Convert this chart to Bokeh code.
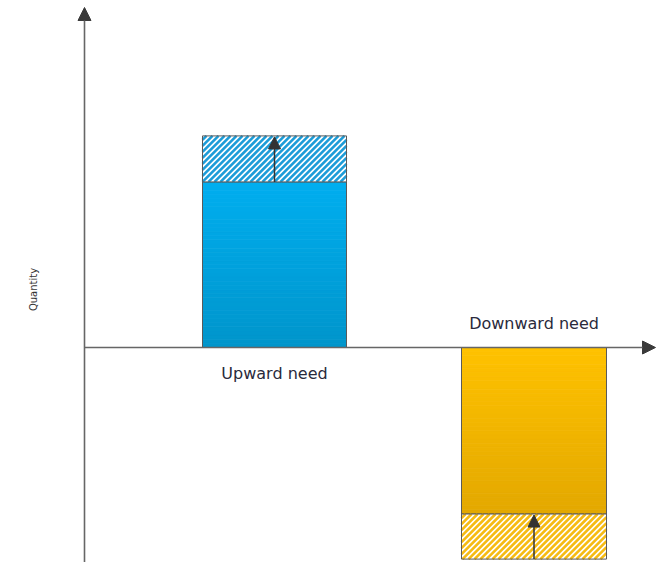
import numpy as np
from bokeh.plotting import figure
from bokeh.models import Range1d, Arrow, NormalHead
from bokeh.core.properties import value
from bokeh.embed import file_html
from bokeh.resources import INLINE

# ---- data ----
categories = ["Upward need", "Downward need"]
base_need = [3.6, -3.62]
extra_need = [1.0, -0.98]
axis_label = "Quantity"

# ---- layout (pixel-like x units, value y units) ----
PX = 46.0                      # pixels per unit of quantity
AXIS_Y = 352                   # reference pixel row of the horizontal axis
TOP_PX = 5                     # reference pixel row at the top of the frame
bar_x = [274, 533.5]
bar_w = [144, 145]
label_off = [-0.56, 0.52]
top_colors = [("#00AEEF", "#0095CB"), ("#FFC200", "#E3A800")]
stripe_col = ["#1C9CD8", "#F6BB12"]

W, H = 656, 562
p = figure(frame_width=W, frame_height=H, min_border=0,
           x_range=Range1d(0, W),
           y_range=Range1d((AXIS_Y - TOP_PX - H) / PX, (AXIS_Y - TOP_PX) / PX),
           x_axis_location=None, y_axis_location=None,
           toolbar_location=None, output_backend="svg")
p.grid.visible = False
p.outline_line_color = None
p.background_fill_color = "white"


def hexrgb(h):
    return np.array([int(h[i:i + 2], 16) for i in (1, 3, 5)], dtype=float)


def v(ypix_from_ref):
    return (AXIS_Y - ypix_from_ref) / PX


for i, cat in enumerate(categories):
    b = base_need[i]
    e = extra_need[i]
    xc, w = bar_x[i], bar_w[i]
    left, right = xc - w / 2, xc + w / 2
    # gradient strips for the solid bar (top colour -> bottom colour)
    c_top, c_bot = hexrgb(top_colors[i][0]), hexrgb(top_colors[i][1])
    n = 40
    edges = np.linspace(0, b, n + 1)
    tops = np.maximum(edges[:-1], edges[1:])
    bots = np.minimum(edges[:-1], edges[1:])
    mids = (tops + bots) / 2
    hi, lo = max(0, b), min(0, b)
    t = (hi - mids) / (hi - lo)
    cols = ["#%02x%02x%02x" % tuple(int(round(c)) for c in (c_top * (1 - tt) + c_bot * tt)) for tt in t]
    p.quad(left=[left] * n, right=[right] * n, top=tops, bottom=bots,
           fill_color=cols, line_color=cols, line_width=0.8)
    p.quad(left=[left], right=[right], top=[hi], bottom=[lo],
           fill_color=None, line_color="#5a5a5a", line_width=1)
    # hatched extra need: white box with diagonal stripes
    h0, h1 = b, b + e
    ylo, yhi = min(h0, h1) * PX, max(h0, h1) * PX   # pixel units, up positive
    p.quad(left=[left], right=[right], top=[yhi / PX], bottom=[ylo / PX],
           fill_color="white", line_color=None)
    spacing = 6.0
    cs = np.arange(ylo - right, yhi - left + spacing, spacing)
    xs0, ys0, xs1, ys1 = [], [], [], []
    for c in cs:
        xa = max(left, ylo - c)
        xb = min(right, yhi - c)
        if xb > xa:
            xs0.append(xa); ys0.append((xa + c) / PX)
            xs1.append(xb); ys1.append((xb + c) / PX)
    p.segment(x0=xs0, y0=ys0, x1=xs1, y1=ys1, line_color=stripe_col[i],
              line_width=2.6, line_cap="butt")
    p.quad(left=[left], right=[right], top=[yhi / PX], bottom=[ylo / PX],
           fill_color=None, line_color="#5a5a5a", line_width=1)
    # arrow inside hatched area
    if e > 0:
        ys, ye = h0, h1 - 1 / PX
    else:
        ys, ye = h1, h0 - 1 / PX
    p.add_layout(Arrow(end=NormalHead(size=12, fill_color="#333333", line_color="#333333"),
                       x_start=xc, y_start=ys, x_end=xc, y_end=ye,
                       line_color="#333333", line_width=1.5))
    # category label
    p.text(x=[xc], y=[label_off[i]], text=[cat], text_align="center",
           text_baseline="middle", text_font=value("DejaVu Sans"),
           text_font_size="16px", text_color="#2a2a3c")

# axes with arrow heads
p.add_layout(Arrow(end=NormalHead(size=13, fill_color="#3a3a3a", line_color="#3a3a3a"),
                   x_start=84, y_start=v(600), x_end=84, y_end=v(12),
                   line_color="#666666", line_width=1.6))
p.add_layout(Arrow(end=NormalHead(size=13, fill_color="#3a3a3a", line_color="#3a3a3a"),
                   x_start=84, y_start=0, x_end=655, y_end=0,
                   line_color="#666666", line_width=1.6))

p.text(x=[33], y=[v(294)], text=[axis_label], angle=np.pi / 2,
       text_align="center", text_baseline="middle", text_font=value("DejaVu Sans"),
       text_font_size="10px", text_color="#333333")

open("out.html", "w").write(file_html(p, INLINE))
